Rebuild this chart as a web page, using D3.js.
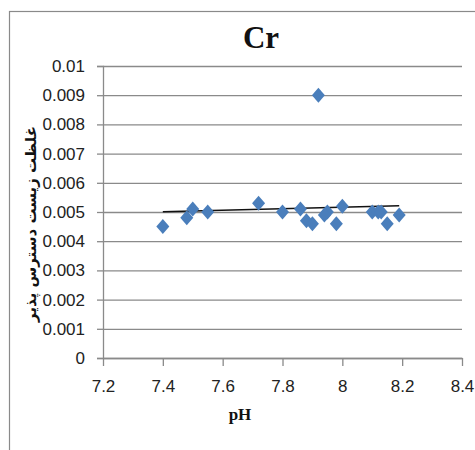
<!DOCTYPE html>
<html>
<head>
<meta charset="utf-8">
<script src="https://cdn.jsdelivr.net/npm/d3@7"></script>
<style>
  html, body { margin: 0; padding: 0; background: #fff; }
  svg { display: block; }
</style>
</head>
<body>
<svg id="chart" width="475" height="450"></svg>
<script>
// pH of each sample
const phValues = [7.40, 7.48, 7.50, 7.55, 7.72, 7.80, 7.86, 7.88, 7.90, 7.92, 7.95, 7.94, 7.98, 8.00, 8.10, 8.12, 8.13, 8.15, 8.19];
// bioavailable Cr concentration of each sample
const crValues = [0.0045, 0.0048, 0.0051, 0.0050, 0.0053, 0.0050, 0.0051, 0.0047, 0.0046, 0.0090, 0.0050, 0.0049, 0.0046, 0.0052, 0.0050, 0.0050, 0.0050, 0.0046, 0.0049];
// linear trend line end points
const trendX = [7.40, 8.19];
const trendY = [0.00501, 0.00521];
// axis ticks
const xTicks = [7.2, 7.4, 7.6, 7.8, 8, 8.2, 8.4];
const yTicks = [0, 0.001, 0.002, 0.003, 0.004, 0.005, 0.006, 0.007, 0.008, 0.009, 0.01];

const svg = d3.select("#chart");
const plotLeft = 103, plotRight = 462, plotTop = 66, plotBottom = 358;
const grey = "#8a8a8a";
const tickFont = "'Liberation Sans Narrow', 'Arial Narrow', 'Liberation Sans', sans-serif";

const x = d3.scaleLinear().domain([7.2, 8.4]).range([plotLeft, plotRight]);
const y = d3.scaleLinear().domain([0, 0.01]).range([plotBottom, plotTop]);

// chart area border
svg.append("rect")
  .attr("x", 9.5).attr("y", 11.5)
  .attr("width", 600).attr("height", 600)
  .attr("fill", "none").attr("stroke", grey).attr("stroke-width", 1.2);

// horizontal gridlines with y axis
const yAxis = d3.axisLeft(y).tickValues(yTicks)
  .tickSize(6).tickPadding(12)
  .tickFormat(d => d === 0 ? "0" : String(+d.toFixed(3)));
const gy = svg.append("g").attr("transform", `translate(${plotLeft},0)`).call(yAxis);
gy.select(".domain").attr("stroke", grey).attr("stroke-width", 1.3);
gy.selectAll(".tick line").attr("stroke", grey).attr("stroke-width", 1.3);
gy.selectAll(".tick").append("line")
  .attr("x1", 0).attr("x2", plotRight - plotLeft)
  .attr("stroke", grey).attr("stroke-width", 1.3);
gy.selectAll(".tick text")
  .attr("font-family", tickFont).attr("font-size", 17).attr("fill", "#222");

// x axis
const xAxis = d3.axisBottom(x).tickValues(xTicks)
  .tickSize(8).tickPadding(14).tickSizeOuter(0)
  .tickFormat(d => String(d));
const gx = svg.append("g").attr("transform", `translate(0,${plotBottom})`).call(xAxis);
gx.select(".domain").attr("stroke", grey).attr("stroke-width", 1.3);
gx.selectAll(".tick line").attr("stroke", grey).attr("stroke-width", 1.3);
gx.selectAll(".tick text")
  .attr("font-family", tickFont).attr("font-size", 17).attr("fill", "#222");

// trend line
svg.append("line")
  .attr("x1", x(trendX[0])).attr("y1", y(trendY[0]))
  .attr("x2", x(trendX[1])).attr("y2", y(trendY[1]))
  .attr("stroke", "#111").attr("stroke-width", 1.5);

// diamond markers
const hw = 6.5, hh = 7.5;
svg.append("g").selectAll("path")
  .data(phValues.map((p, i) => [p, crValues[i]]))
  .join("path")
  .attr("d", d => {
    const cx = x(d[0]), cy = y(d[1]);
    return `M${cx},${cy - hh}L${cx + hw},${cy}L${cx},${cy + hh}L${cx - hw},${cy}Z`;
  })
  .attr("fill", "#4a7ebb");

// title
svg.append("text")
  .attr("x", 261).attr("y", 48)
  .attr("text-anchor", "middle")
  .attr("font-family", "'Liberation Serif', 'Times New Roman', serif")
  .attr("font-weight", "bold").attr("font-size", 31)
  .attr("fill", "#111")
  .text("Cr");

// x axis title
svg.append("text")
  .attr("x", 240).attr("y", 420)
  .attr("text-anchor", "middle")
  .attr("font-family", "'Liberation Serif', 'Times New Roman', serif")
  .attr("font-weight", "bold").attr("font-size", 17)
  .attr("fill", "#111")
  .text("pH");

// y axis title
svg.append("text")
  .attr("transform", "translate(36,224) rotate(-90)")
  .attr("text-anchor", "middle")
  .attr("font-family", "'DejaVu Sans', 'Noto Sans', sans-serif")
  .attr("font-weight", "bold").attr("font-size", 15)
  .attr("fill", "#111")
  .attr("direction", "rtl")
  .text("غلظت زیست دسترس پذیر");
</script>
</body>
</html>
